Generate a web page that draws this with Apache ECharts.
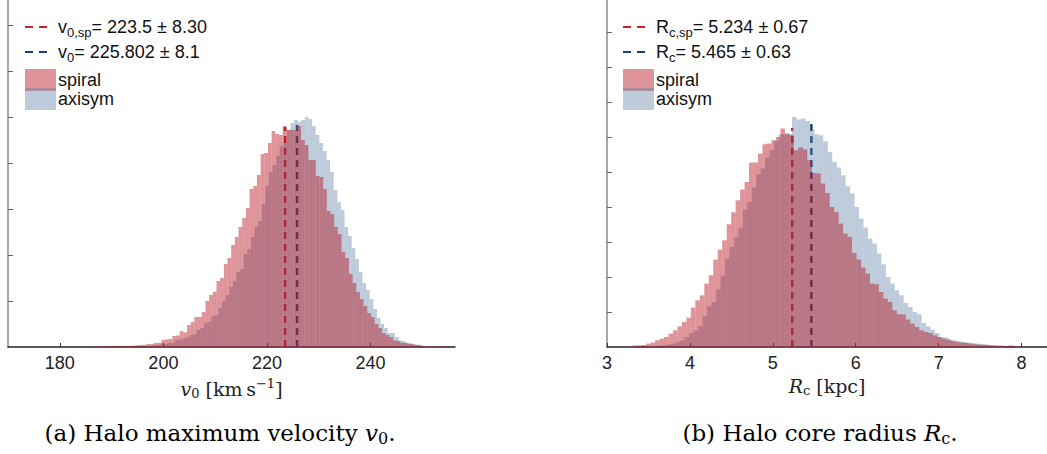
<!DOCTYPE html>
<html><head><meta charset="utf-8">
<script src="https://cdn.jsdelivr.net/npm/echarts@6/dist/echarts.min.js"></script>
<style>html,body{margin:0;padding:0;background:#fff}#c{width:1047px;height:454px}</style>
</head><body><div id="c"></div>
<script>
// ---------- Panel (a): halo maximum velocity v0 ----------
const v0SpiralStart = 185.40;
const v0SpiralWidth = 0.71;
const v0SpiralCounts = [0.4,0.3,0.5,0.4,0.6,0.5,0.7,0.8,0.6,1.0,
 0.9,1.2,1.4,1.8,2.0,2.2,3.0,3.1,4.0,4.2,
 7,7.5,8,11,11.5,16,14.7,22,25,30,
 30,35,46,52,55,66,69,83,89,102,
 110,120,129,139,158,161,172,193,194,204,
 216,213,212,221,217,217,217,221,207,202,
 187,187,171,170,158,136,133,120,113,95,
 89,73,64,55,48,41,34,30,23,19,
 14,12,10,6.5,6,4.2,4,3,2.8,2,
 1.8,0.8,0.6,0.5,0.4,0.5,0.3,0.4,0.3,0.3];
const v0AxisymStart = 191.875;
const v0AxisymWidth = 0.695;
const v0AxisymCounts = [0.3,0.4,0.5,0.6,0.7,0.8,1.0,1.1,1.3,2.0,
 2.2,3.0,3.2,4.0,4.3,7,7.3,8.7,10,11.7,
 13,17,19,23.7,25,31,32,39,46,52,
 60,66,75,78,93,98,110,120,126,143,
 161,175,182,191,201,205,217,224,227,225,
 227,230,228,221,212,204,196,187,175,157,
 145,137,120,111,99,88,75,64,57,48,
 38,29,23,19,14,14,10,6.5,6,4.2,
 3.8,2.5,2.2,1.2,0.8,0.6,0.4];
const v0Means = [223.5, 225.802];      // spiral, axisym
const v0MeanTops = [220, 222];
const v0XTicks = [180, 200, 220, 240];
const v0YTicks = [46, 92, 138, 184, 230, 276, 322];

// ---------- Panel (b): halo core radius Rc ----------
const rcSpiralStart = 3.3096;
const rcSpiralWidth = 0.054;
const rcSpiralCounts = [1.5,1.7,2.0,3.4,4.4,6.7,8.4,10,13.4,16.7,
 20.7,25,29.4,39.4,46.7,51.7,63.4,71.7,87.4,97.4,
 106.7,122.7,134.7,146.7,157.4,165,184.4,184.4,193.4,202.7,
 203.4,206.7,210,218.4,213.4,211.7,196.7,199.4,197.4,186.7,
 174,173.4,163.4,154,140,135,123.4,113.4,110,94,
 87.4,79.4,73.4,63.4,62.7,55,48.4,45,36.7,32.7,
 32.7,27.4,23.4,20,16.7,15,14,11.7,10,8.4,
 7.4,6,5,4.4,4,3.4,2.7,2.4,2.4,2,
 1.7,1.5,1.5,1.0,1.7,0.6];
const rcAxisymStart = 3.5074;
const rcAxisymWidth = 0.05388;
const rcAxisymCounts = [0.8,1.2,1.5,1.7,2.4,3.4,5,6.7,10,14,
 16.7,20.7,30.7,40.7,45,57.4,71.4,88.4,100,110,
 119.4,137.4,145,159.4,172.7,178.4,189.4,196.7,206,212.7,
 212.7,213,230,227.4,228.4,226,217.4,212.7,211.7,205.7,
 195,185,179.4,171.7,160.7,153.4,140,128.4,119.4,108.4,
 103.4,93.4,82.7,70,63.4,56.7,51.7,44,40,35,
 32.7,24,20.7,17.4,14,10,9.4,7.4,6.7,6,
 5,4.4,4,3.4,2.7,2.4,1.7,1.4,1.0,0.8,
 0.6];
const rcMeans = [5.234, 5.465];
const rcMeanTops = [219, 223];
const rcXTicks = [3, 4, 5, 6, 7, 8];
const rcYTicks = [35, 70, 105, 140, 175, 210, 245, 280, 315];

// ---------- styles ----------
const RED_FILL = 'rgba(178,6,18,0.43)';
const BLUE_FILL = 'rgba(92,125,165,0.40)';
const RED_LINE = '#d0202e';
const BLUE_LINE = '#163f73';
const SANS = '"Liberation Sans", Arial, sans-serif';
const SERIF = '"DejaVu Serif", serif';

function histSeries(name, start, width, counts, fill, idx, z) {
  const data = counts.map((c, i) => [start + i * width, start + (i + 1) * width, c]);
  return {
    type: 'custom', name, xAxisIndex: idx, yAxisIndex: idx, z, silent: true, clip: true,
    encode: { x: [0, 1], y: 2 },
    data,
    renderItem: (params, api) => {
      const p0 = api.coord([api.value(0), api.value(2)]);
      const p1 = api.coord([api.value(1), 0]);
      return { type: 'rect', shape: { x: p0[0], y: p0[1], width: p1[0] - p0[0], height: p1[1] - p0[1] },
               style: { fill } };
    }
  };
}
function meanLine(x, top, color, idx) {
  return {
    type: 'line', xAxisIndex: idx, yAxisIndex: idx, z: 1, silent: true, symbol: 'none',
    data: [[x, 0], [x, top]],
    lineStyle: { color, width: 2.5, type: [7, 5] }
  };
}
function xAxis(idx, min, max, ticks, name) {
  return {
    type: 'value', gridIndex: idx, min, max,
    axisLine: { show: true, onZero: false, lineStyle: { color: '#222', width: 1.5 } },
    axisTick: { show: true, inside: true, length: 4, customValues: ticks, lineStyle: { color: '#333', width: 1 } },
    axisLabel: { customValues: ticks, fontFamily: SANS, fontSize: 18, color: '#222', margin: 7 },
    splitLine: { show: false },
    name, nameLocation: 'middle', nameGap: 27,
    nameTextStyle: {
      fontFamily: SERIF, fontSize: 19, color: '#222',
      rich: {
        it: { fontFamily: SERIF, fontStyle: 'italic', fontSize: 19, color: '#222' },
        sub: { fontFamily: SERIF, fontSize: 13, color: '#222', padding: [9, 0, 0, 0] },
        rm: { fontFamily: SERIF, fontSize: 19, color: '#222' },
        sup: { fontFamily: SERIF, fontSize: 13, color: '#222', padding: [0, 0, 12, 0] }
      }
    }
  };
}
function yAxis(idx, ticks) {
  return {
    type: 'value', gridIndex: idx, min: 0, max: 347,
    axisLine: { show: true, lineStyle: { color: '#8a8a8a', width: 1.5 } },
    axisTick: { show: true, inside: true, length: 5, customValues: ticks, lineStyle: { color: '#666', width: 1 } },
    axisLabel: { show: false },
    splitLine: { show: false }
  };
}
function legendGroup(x0, line1, line2) {
  const tokenRich = {
    m: { fontFamily: SANS, fontSize: 18, color: '#111' },
    s: { fontFamily: SANS, fontSize: 13, color: '#111', padding: [10, 0, 0, 0] }
  };
  return [
    { type: 'line', shape: { x1: x0, y1: 27, x2: x0 + 23, y2: 27 }, style: { stroke: RED_LINE, lineWidth: 2, lineDash: [8, 6] } },
    { type: 'text', x: x0 + 33, y: 27, style: { text: line1, rich: tokenRich, fontFamily: SANS, fontSize: 18, fill: '#111', verticalAlign: 'middle', align: 'left' } },
    { type: 'line', shape: { x1: x0, y1: 52, x2: x0 + 23, y2: 52 }, style: { stroke: BLUE_LINE, lineWidth: 2, lineDash: [8, 6] } },
    { type: 'text', x: x0 + 33, y: 52, style: { text: line2, rich: tokenRich, fontFamily: SANS, fontSize: 18, fill: '#111', verticalAlign: 'middle', align: 'left' } },
    { type: 'rect', shape: { x: x0, y: 69, width: 31, height: 22 }, style: { fill: RED_FILL } },
    { type: 'rect', shape: { x: x0, y: 88, width: 31, height: 22 }, style: { fill: BLUE_FILL } },
    { type: 'text', x: x0 + 33, y: 80, style: { text: 'spiral', fontFamily: SANS, fontSize: 18, fill: '#111', verticalAlign: 'middle', align: 'left' } },
    { type: 'text', x: x0 + 33, y: 99, style: { text: 'axisym', fontFamily: SANS, fontSize: 18, fill: '#111', verticalAlign: 'middle', align: 'left' } }
  ];
}
const capRich = {
  r: { fontFamily: SERIF, fontSize: 23, color: '#111' },
  i: { fontFamily: SERIF, fontStyle: 'italic', fontSize: 23, color: '#111' },
  b: { fontFamily: SERIF, fontSize: 16, color: '#111', padding: [10, 0, 0, 0] }
};

const chart = echarts.init(document.getElementById('c'), null, { renderer: 'svg' });
chart.setOption({
  animation: false,
  backgroundColor: '#fff',
  grid: [
    { left: 8, top: 0, width: 447, height: 347 },
    { left: 607, top: 0, width: 440, height: 347 }
  ],
  xAxis: [
    xAxis(0, 170, 256.3, v0XTicks, '{it|v}{sub|0}{rm| [km\u2009s}{sup|\u22121}{rm|]}'),
    xAxis(1, 3, 8.307, rcXTicks, '{it|R}{sub|c}{rm| [kpc]}')
  ],
  yAxis: [yAxis(0, v0YTicks), yAxis(1, rcYTicks)],
  series: [
    meanLine(v0Means[0], v0MeanTops[0], RED_LINE, 0),
    meanLine(v0Means[1], v0MeanTops[1], BLUE_LINE, 0),
    histSeries('axisym', v0AxisymStart, v0AxisymWidth, v0AxisymCounts, BLUE_FILL, 0, 2),
    histSeries('spiral', v0SpiralStart, v0SpiralWidth, v0SpiralCounts, RED_FILL, 0, 3),
    meanLine(rcMeans[0], rcMeanTops[0], RED_LINE, 1),
    meanLine(rcMeans[1], rcMeanTops[1], BLUE_LINE, 1),
    histSeries('axisym', rcAxisymStart, rcAxisymWidth, rcAxisymCounts, BLUE_FILL, 1, 2),
    histSeries('spiral', rcSpiralStart, rcSpiralWidth, rcSpiralCounts, RED_FILL, 1, 3)
  ],
  graphic: [
    ...legendGroup(25, '{m|v}{s|0,sp}{m|= 223.5 \u00b1 8.30}', '{m|v}{s|0}{m|= 225.802 \u00b1 8.1}'),
    ...legendGroup(623, '{m|R}{s|c,sp}{m|= 5.234 \u00b1 0.67}', '{m|R}{s|c}{m|= 5.465 \u00b1 0.63}'),
    { type: 'text', x: 220, y: 433, style: { text: '{r|(a) Halo maximum velocity }{i|v}{b|0}{r|.}', rich: capRich, align: 'center', verticalAlign: 'middle', fontFamily: SERIF, fontSize: 23 } },
    { type: 'text', x: 820, y: 433, style: { text: '{r|(b) Halo core radius }{i|R}{b|c}{r|.}', rich: capRich, align: 'center', verticalAlign: 'middle', fontFamily: SERIF, fontSize: 23 } }
  ]
});
</script>
</body></html>
